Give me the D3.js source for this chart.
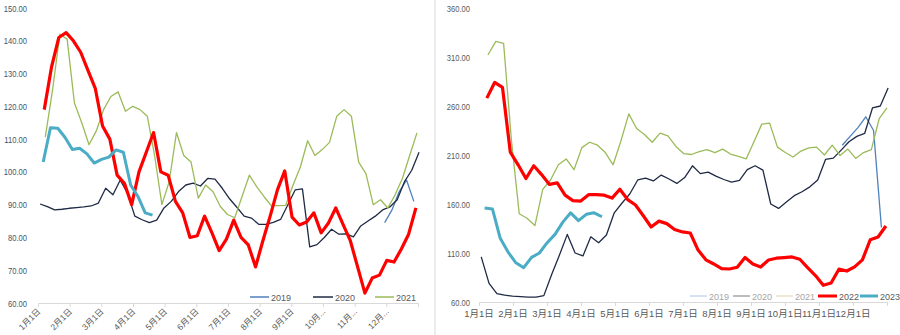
<!DOCTYPE html>
<html><head><meta charset="utf-8">
<script src="https://cdn.jsdelivr.net/npm/d3@7/dist/d3.min.js"></script>
<style>
body{margin:0;background:#fff;}
svg{display:block;font-family:"Liberation Sans","Noto Sans CJK SC",sans-serif;}
</style></head>
<body><svg id="c" width="900" height="335"></svg>
<script>
// ---------- DATA ----------
const years = ["2019","2020","2021","2022","2023"];
// Left chart: weekly values, start day-of-year for each series
const leftTickLabels = ["1月1日","2月1日","3月1日","4月1日","5月1日","6月1日","7月1日","8月1日","9月1日","10月...","11月...","12月..."];
const leftYTicks = [60,70,80,90,100,110,120,130,140,150];
const left2019Start = 333;
const left2019 = [84.5,88.4,94,97.5,91];
const left2020Start = 2;
const left2020 = [90.2,89.4,88.4,88.6,88.9,89.1,89.3,89.6,90.5,95,93,97.5,93.5,86.5,85.4,84.5,85.3,89,91,94,96,96.6,95.7,98,97.8,95,91.8,89.2,86.5,85.9,84,84,84.6,85.5,90,94.5,94.8,77.1,77.8,80,82.5,81,81.1,80.2,83.5,85,86.5,88.4,89.3,91.5,97,100.5,106];
const left2021Start = 7;
const left2021 = [110.6,125,142,140.5,121,115,108.3,112.5,119,123,124.4,118.5,120,119,117,105,90,97,112,105,103,92,96,94,89.5,87,86,92.5,99,95.5,92.5,89.7,89.7,89.8,96,101.5,109.5,105,106.8,109,117,119,117,103,99.5,90,91.5,89,93,98,105,111.9];
const left2022Start = 6;
const left2022 = [119,132,141,142.5,140,136.5,131,125.5,114,110,99,96.5,90,100,106,112,100,99,91,87.5,80,80.5,86.5,81.5,76,79.5,85.3,80,77.7,71,79,86.5,94.5,100.3,86.2,83.8,84.7,87.5,81.4,84.4,89,84,79,71,63,67.6,68.5,73,72.5,76.5,81,89];
const left2023Start = 5;
const left2023 = [103,113.5,113.3,110.5,106.8,107.2,105.5,102.7,103.8,104.5,106.7,106,96,92.5,87.5,86.8];

// Right chart
const rightTickLabels = ["1月1日","2月1日","3月1日","4月1日","5月1日","6月1日","7月1日","8月1日","9月1日","10月1日","11月1日","12月1日"];
const rightYTicks = [60,110,160,210,260,310,360];
const right2019Start = 325;
const right2019 = [220,229,238,249,235,136];
const right2020Start = 2;
const right2020 = [106,79,68.5,67,66,65.5,65,65,66.5,88,108,129,110,107,126.5,120.5,128.4,151,161,170.5,184.5,186.5,183.5,189.5,185.5,181,187,199,191,192.5,188.5,185,182.4,184,195,199,194.5,160,155.5,162,168.5,172.5,177.5,184.5,205.5,206.8,215,223.5,229,232,258,260,278.4];
const right2021Start = 8;
const right2021 = [312,326,324,225,150,145.5,138,175,184.5,200,206,195,217.5,223,220,212.5,200,224.5,252,237,231,223,232.4,229.5,219,211.5,210.5,213.5,215.5,212.5,216,211,208.5,206,223.5,241.5,242.5,218,212.5,208,214,217.2,218,210,220,209.5,216,206.5,212.5,215.5,247,258];
const right2022Start = 7;
const right2022 = [268,284,279,213,200,186,199,190,180,181.5,169,163.5,163,169.5,169.5,169,166,175,164.5,159,148,136.5,142.5,140,134,131.5,130.4,113,103,98.8,94,93.7,95.5,105.5,98.8,95.7,102.9,104.7,105.3,106,103.6,95,87,77,79.4,93.5,91.6,95.8,103,123.5,126.3,137.6];
const right2023Start = 5;
const right2023 = [156,155,125,111,100,95,105.5,110,120.5,129,141.5,151,143,149.5,151,147];

// ---------- DRAW ----------
const svg = d3.select("#c");
const axisCol = "#d9d9d9", textCol = "#595959";
const styles = {
  "2019": {c:"#4f81bd", w:1.3},
  "2020": {c:"#1f2a44", w:1.3},
  "2021": {c:"#9bbb59", w:1.3},
  "2022": {c:"#ff0000", w:3.2},
  "2023": {c:"#4bacc6", w:3}
};

function weekly(start, vals){ return vals.map((v,i)=>({d:start+7*i, v})); }

function drawChart(cfg){
  const g = svg.append("g");
  const x = d3.scaleLinear().domain([0,365]).range(cfg.xr);
  const y = d3.scaleLinear().domain(cfg.yd).range(cfg.yr);
  // y labels (condensed horizontally)
  g.selectAll(".yl").data(cfg.yTicks).join("text")
    .attr("text-anchor","end").attr("font-size",9.5).attr("fill",cfg.yCol||textCol)
    .attr("transform",d=>`translate(${cfg.yLabelX},${y(d)+3.5}) scale(0.8,1)`)
    .text(d=>d3.format(".2f")(d));
  // x axis
  const months = d3.range(13);
  const xm = d3.scaleLinear().domain([0,12]).range(cfg.xr);
  const ax = d3.axisBottom(xm).tickValues(months).tickSize(4).tickFormat("");
  const axg = g.append("g").attr("transform",`translate(0,${cfg.yr[0]})`).call(ax);
  axg.selectAll("path,line").attr("stroke",axisCol);
  // x labels
  const lab = g.selectAll(".xl").data(cfg.xLabels).join("text")
    .attr("font-size",cfg.xFont).attr("fill",textCol)
    .text(d=>d);
  if(cfg.rotate){
    lab.attr("text-anchor","end")
      .attr("transform",(d,i)=>`translate(${xm(i)+3},${cfg.yr[0]+9}) rotate(-45)`);
  } else {
    lab.attr("text-anchor","middle").attr("x",(d,i)=>xm(i)).attr("y",cfg.yr[0]+15);
  }
  // lines
  const line = d3.line().x(d=>x(d.d)).y(d=>y(d.v));
  cfg.series.forEach(s=>{
    g.append("path").datum(weekly(s.start,s.vals))
      .attr("fill","none").attr("stroke",styles[s.name].c)
      .attr("stroke-width",styles[s.name].w)
      .attr("stroke-linejoin","round")
      .attr("d",line);
  });
  // legend
  cfg.legend.forEach(l=>{
    g.append("line").attr("x1",l.x).attr("x2",l.x+l.len).attr("y1",cfg.legY).attr("y2",cfg.legY)
      .attr("stroke",l.c).attr("stroke-width",l.w);
    g.append("text").attr("x",l.x+l.len+2).attr("y",cfg.legY+3.5)
      .attr("font-size",9).attr("fill",l.tc).text(l.name);
  });
}

drawChart({
  xr:[38,418], yd:[60,150], yr:[303,8], yTicks:leftYTicks, yLabelX:27,
  xLabels:leftTickLabels, rotate:true, xFont:8.5, yCol:"#44546a",
  series:[
    {name:"2019",start:left2019Start,vals:left2019},
    {name:"2020",start:left2020Start,vals:left2020},
    {name:"2021",start:left2021Start,vals:left2021},
    {name:"2022",start:left2022Start,vals:left2022},
    {name:"2023",start:left2023Start,vals:left2023}
  ],
  legY:297,
  legend:[
    {name:years[0],x:250,len:19,c:styles["2019"].c,w:1.5,tc:textCol},
    {name:years[1],x:313,len:20,c:styles["2020"].c,w:1.5,tc:textCol},
    {name:years[2],x:375,len:19,c:styles["2021"].c,w:1.5,tc:textCol}
  ]
});

// separator line between panels
svg.append("line").attr("x1",435).attr("x2",435).attr("y1",0).attr("y2",335)
  .attr("stroke","#d9d9d9").attr("stroke-width",1);

drawChart({
  xr:[479,887], yd:[60,360], yr:[302,8], yTicks:rightYTicks, yLabelX:470,
  xLabels:rightTickLabels, rotate:false, xFont:9.5, yCol:"#595959",
  series:[
    {name:"2019",start:right2019Start,vals:right2019},
    {name:"2020",start:right2020Start,vals:right2020},
    {name:"2021",start:right2021Start,vals:right2021},
    {name:"2022",start:right2022Start,vals:right2022},
    {name:"2023",start:right2023Start,vals:right2023}
  ],
  legY:296,
  legend:[
    {name:years[0],x:690,len:17,c:"#c6d9f0",w:1.5,tc:"#a6a6a6"},
    {name:years[1],x:733,len:17,c:"#a6a6a6",w:1.5,tc:"#a6a6a6"},
    {name:years[2],x:776,len:17,c:"#e8e2c8",w:1.5,tc:"#a6a6a6"},
    {name:years[3],x:818,len:19,c:"#ff0000",w:3,tc:textCol},
    {name:years[4],x:860,len:18,c:"#4bacc6",w:3,tc:textCol}
  ]
});
</script></body></html>
